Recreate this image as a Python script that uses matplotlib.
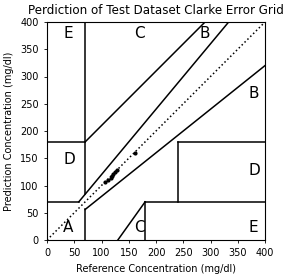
import matplotlib
matplotlib.use("Agg")
import matplotlib.pyplot as plt

ref_values = [106, 112, 117, 119, 122, 125, 128, 161]
pred_values = [106, 110, 114, 117, 121, 124, 128, 160]

zone_labels = ["A", "B", "B", "C", "C", "D", "D", "E", "E"]
zone_x = [30, 370, 280, 160, 160, 30, 370, 30, 370]
zone_y = [15, 260, 370, 370, 15, 140, 120, 370, 15]

fig = plt.figure(figsize=(2.92, 2.78), dpi=100)
ax = fig.add_axes([47/292, 38/278, 218/292, 218/278])

ax.scatter(ref_values, pred_values, marker='o', color='black', s=4)
ax.set_title("Perdiction of Test Dataset Clarke Error Grid", fontsize=8.6)
ax.set_xlabel("Reference Concentration (mg/dl)", fontsize=7)
ax.set_ylabel("Prediction Concentration (mg/dl)", fontsize=7)
ax.set_xticks(range(0, 401, 50))
ax.set_yticks(range(0, 401, 50))
ax.tick_params(labelsize=7, length=2.5, width=0.6)
for s in ax.spines.values():
    s.set_linewidth(0.8)
ax.set_xlim(0, 400)
ax.set_ylim(0, 400)

lw = 1.1
ax.plot([0, 400], [0, 400], ':', c='black', lw=lw)
ax.plot([0, 175/3], [70, 70], '-', c='black', lw=lw)
ax.plot([175/3, 400/1.2], [70, 400], '-', c='black', lw=lw)
ax.plot([70, 70], [84, 400], '-', c='black', lw=lw)
ax.plot([0, 70], [180, 180], '-', c='black', lw=lw)
ax.plot([70, 290], [180, 400], '-', c='black', lw=lw)
ax.plot([70, 70], [0, 56], '-', c='black', lw=lw)
ax.plot([70, 400], [56, 320], '-', c='black', lw=lw)
ax.plot([180, 180], [0, 70], '-', c='black', lw=lw)
ax.plot([180, 400], [70, 70], '-', c='black', lw=lw)
ax.plot([240, 240], [70, 180], '-', c='black', lw=lw)
ax.plot([240, 400], [180, 180], '-', c='black', lw=lw)
ax.plot([130, 180], [0, 70], '-', c='black', lw=lw)

for t, x, y in zip(zone_labels, zone_x, zone_y):
    ax.text(x, y, t, fontsize=11)

fig.savefig("out.png", dpi=100)
